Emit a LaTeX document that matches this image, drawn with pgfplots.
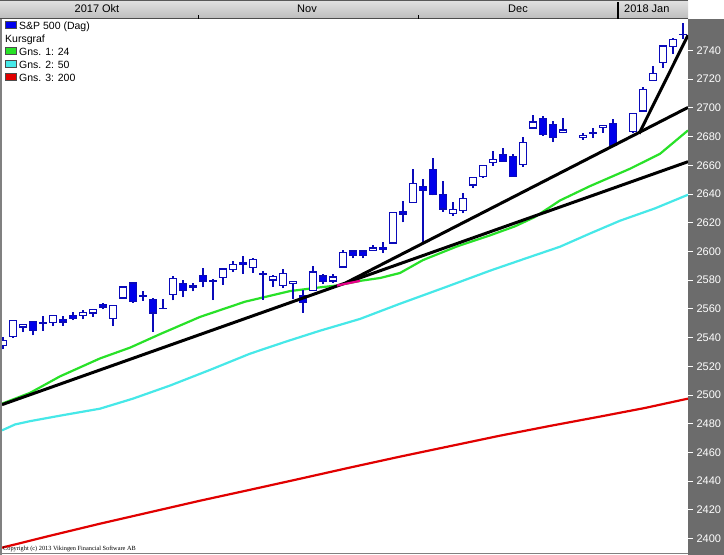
\documentclass[border=0pt]{standalone}
\usepackage{fontspec}
\setmainfont{Liberation Sans}
\newfontfamily\serifsmall{Liberation Serif}
\usepackage{pgfplots}
\pgfplotsset{compat=1.18}
\usepackage{pgfplotstable}

\definecolor{candleblue}{RGB}{0,0,235}
\definecolor{candleedge}{RGB}{10,10,185}
\definecolor{magreen}{RGB}{40,225,40}
\definecolor{macyan}{RGB}{70,232,232}
\definecolor{mared}{RGB}{225,0,0}
\definecolor{panelgray}{RGB}{108,108,108}
\definecolor{barlight}{RGB}{226,226,226}
\definecolor{bardark}{RGB}{188,188,188}

% k = trading slot (10 px each), O H L C
\pgfplotstableread{
k O H L C
0 2534.65 2540.53 2531.72 2537.74
1 2540.86 2552.51 2540.02 2552.07
2 2547.44 2549.41 2543.79 2549.33
3 2551.39 2551.82 2541.60 2544.73
4 2549.99 2555.23 2544.86 2550.64
5 2550.62 2555.24 2547.95 2555.24
6 2552.88 2555.33 2548.31 2550.93
7 2555.66 2557.65 2552.09 2553.17
8 2555.57 2559.47 2552.64 2557.64
9 2557.17 2559.71 2554.69 2559.36
10 2562.87 2564.11 2559.67 2561.26
11 2553.39 2562.36 2547.92 2562.10
12 2567.56 2575.44 2567.56 2575.21
13 2578.08 2578.29 2564.33 2564.98
14 2568.66 2572.18 2565.63 2569.13
15 2566.52 2567.40 2544.00 2557.15
16 2560.08 2567.07 2559.80 2560.40
17 2570.26 2582.98 2565.94 2581.07
18 2577.75 2580.03 2568.25 2572.83
19 2575.99 2578.29 2572.15 2575.26
20 2583.21 2588.40 2574.92 2579.36
21 2579.46 2581.11 2566.17 2579.85
22 2581.93 2588.42 2576.77 2587.84
23 2587.47 2593.38 2585.66 2591.13
24 2592.11 2597.02 2584.35 2590.64
25 2588.71 2595.47 2585.02 2594.38
26 2584.00 2586.50 2566.33 2584.62
27 2580.18 2583.81 2575.57 2582.30
28 2576.53 2587.66 2574.48 2584.84
29 2577.75 2579.66 2566.56 2578.87
30 2569.45 2572.84 2557.45 2564.62
31 2572.95 2590.09 2572.95 2585.64
32 2582.94 2583.96 2577.62 2578.85
33 2579.49 2584.64 2578.24 2582.14
34 2589.17 2601.19 2589.17 2599.03
35 2600.31 2600.94 2595.23 2597.08
36 2600.31 2600.94 2595.23 2597.08
37 2600.42 2604.21 2600.42 2602.42
38 2602.66 2606.41 2598.87 2601.42
39 2605.95 2627.69 2605.44 2627.04
40 2627.82 2634.89 2620.32 2626.07
41 2633.93 2657.74 2633.93 2647.58
42 2645.10 2650.62 2605.52 2642.22
43 2657.19 2665.19 2639.03 2639.44
44 2639.78 2648.72 2627.73 2629.57
45 2626.24 2634.41 2624.75 2629.27
46 2628.38 2640.99 2626.53 2636.98
47 2646.21 2651.65 2644.10 2651.50
48 2652.19 2660.33 2651.47 2659.99
49 2661.73 2669.72 2659.78 2664.11
50 2667.59 2671.88 2662.85 2662.85
51 2665.87 2668.09 2652.01 2652.01
52 2660.63 2679.63 2659.14 2675.81
53 2685.92 2694.97 2685.92 2690.16
54 2692.71 2694.44 2680.74 2681.47
55 2688.18 2691.01 2676.11 2679.25
56 2683.02 2692.64 2682.40 2684.57
58 2679.09 2682.74 2677.96 2680.50
59 2682.10 2685.64 2678.91 2682.62
60 2686.10 2687.66 2682.69 2687.54
61 2689.15 2692.12 2673.61 2673.61
63 2683.73 2695.89 2682.36 2695.81
64 2697.85 2714.37 2697.77 2713.06
65 2719.31 2729.29 2719.07 2723.99
66 2731.33 2743.45 2727.92 2743.15
67 2742.67 2748.51 2737.60 2747.71
68 2751.15 2759.14 2747.86 2751.29
}\candles

\pgfplotstableread{
k y
-0.1 2494.0
2.7 2501.5
5.7 2513.0
9.7 2525.5
12.7 2533.0
15.7 2542.4
19.7 2554.4
24.2 2565.0
28.7 2572.4
31.7 2575.0
33.4 2576.3
35.7 2579.5
37.7 2581.5
39.7 2585.0
42.0 2594.0
45.4 2603.5
48.7 2611.2
51.2 2617.5
53.2 2624.0
55.7 2635.5
58.7 2645.5
62.7 2657.6
65.7 2668.0
68.5 2684.3
}\maone

\pgfplotstableread{
k y
-0.1 2475.4
1.2 2479.5
2.7 2481.8
6.0 2486.0
9.7 2490.5
13.0 2497.5
16.7 2506.6
20.7 2517.5
24.7 2528.8
28.2 2537.0
31.7 2544.8
35.7 2553.0
39.7 2563.6
44.2 2575.0
48.7 2586.6
52.2 2595.0
55.7 2603.3
58.7 2612.5
61.7 2621.4
65.2 2630.0
68.5 2639.5
}\matwo

\pgfplotstableread{
k y
-0.1 2393.7
4.7 2402.0
9.7 2410.4
14.7 2418.4
19.7 2426.4
24.7 2434.0
29.7 2441.7
34.7 2449.5
39.7 2457.1
44.7 2464.4
49.7 2471.7
54.7 2478.5
59.7 2485.0
64.2 2491.0
68.5 2497.5
}\mathree

\pgfplotsset{
  common/.style={
    at={(2,3)}, anchor=south west,
    width=686pt, height=533pt, scale only axis,
    xmin=-0.1, xmax=68.5, ymin=2391.6, ymax=2762.8,
  }
}

\begin{document}
\begin{tikzpicture}[x=1pt,y=1pt]
\useasboundingbox (0,0) rectangle (724,555);
\fill[white] (0,0) rectangle (724,555);
% right scale panel
\fill[panelgray] (688,0) rectangle (724,536);
% top date bar
\shade[top color=barlight, bottom color=bardark] (0,536) rectangle (688,555);
\draw[gray!70!black, line width=1pt] (0,554.5) -- (688,554.5);
\draw[gray!60!black, line width=0.8pt] (0,536.2) -- (688,536.2);
% left and bottom borders
\draw[gray, line width=1.5pt] (1,0) -- (1,536);
\draw[gray, line width=1.5pt] (0,1.5) -- (688,1.5);

\begin{axis}[common,
  axis x line=none, axis y line=right,
  axis line style={draw=none},
  ytick={2400,2420,...,2740},
  tick align=outside, major tick length=5pt,
  y tick style={white, line width=1pt},
  yticklabel style={text=white, font=\fontsize{11}{13}\selectfont},
  /pgf/number format/assume math mode=true,
  /pgf/number format/1000 sep={},
]
\addplot[mared, line width=2.2pt] table[x=k,y=y] {\mathree};
\addplot[macyan, line width=2.2pt] table[x=k,y=y] {\matwo};
\addplot[magreen, line width=2.2pt] table[x=k,y=y] {\maone};
% wicks
\addplot[only marks, mark=*, mark size=0pt, mark options={draw=none, fill=none}, color=candleedge,
  error bars/.cd, y dir=plus, y explicit, error mark=none,
  error bar style={line width=1.2pt, candleedge}]
  table[x=k, y=L, y error expr=\thisrow{H}-\thisrow{L}] {\candles};
\end{axis}

\begin{axis}[common, hide axis, ybar stacked, bar width=0.7]
\addplot[draw=none, fill=none] table[x=k, y expr={min(\thisrow{O},\thisrow{C})}] {\candles};
\addplot[fill=candleblue, draw=candleedge, line width=1.2pt] table[x=k, y expr={\thisrow{O}>\thisrow{C} ? \thisrow{O}-\thisrow{C} : 0}] {\candles};
\addplot[fill=white, draw=candleedge, line width=1.2pt] table[x=k, y expr={\thisrow{O}>\thisrow{C} ? 0 : \thisrow{C}-\thisrow{O}}] {\candles};
\end{axis}

\begin{axis}[common, hide axis]
\addplot[black, line width=3pt] coordinates {(-0.1,2493.3) (68.5,2662.5)};
\addplot[black, line width=3pt] coordinates {(34.3,2578.2) (68.5,2700.3)};
\addplot[black, line width=3pt] coordinates {(63.6,2682.0) (68.5,2750.6)};
\addplot[magenta, line width=2.2pt] coordinates {(33.4,2576.3) (35.7,2579.5)};
\end{axis}

% month labels in the date bar
\begin{scope}[font=\fontsize{11}{13}\selectfont]
\node[anchor=base] at (97,542) {2017 Okt};
\node[anchor=base] at (307,542) {Nov};
\node[anchor=base] at (518,542) {Dec};
\node[anchor=base west, inner sep=0pt] at (624,542) {2018 Jan};
\end{scope}
\draw[black, line width=0.8pt] (198,536) -- (198,540);
\draw[black, line width=0.8pt] (418,536) -- (418,540);
\draw[black, line width=1.6pt] (618,536) -- (618,553);

% legend
\begin{scope}[font=\fontsize{10.5}{12}\selectfont]
\filldraw[fill=candleblue, draw=black!70, line width=0.6pt] (5,526.5) rectangle (16,533.5);
\node[anchor=base west, inner sep=0pt] at (19,525.5) {S\&P 500 (Dag)};
\node[anchor=base west, inner sep=0pt] at (5,512.5) {Kursgraf};
\filldraw[fill=magreen, draw=black!70, line width=0.6pt] (5,500.5) rectangle (16,507.5);
\node[anchor=base west, inner sep=0pt] at (19,499.5) {Gns. 1: 24};
\filldraw[fill=macyan, draw=black!70, line width=0.6pt] (5,487.5) rectangle (16,494.5);
\node[anchor=base west, inner sep=0pt] at (19,486.5) {Gns. 2: 50};
\filldraw[fill=mared, draw=black!70, line width=0.6pt] (5,474.5) rectangle (16,481.5);
\node[anchor=base west, inner sep=0pt] at (19,473.5) {Gns. 3: 200};
\end{scope}

\node[anchor=base west, inner sep=0pt, font=\serifsmall\fontsize{6.3}{7}\selectfont] at (3,4.5) {Copyright (c) 2013 Vikingen Financial Software AB};
\end{tikzpicture}
\end{document}
